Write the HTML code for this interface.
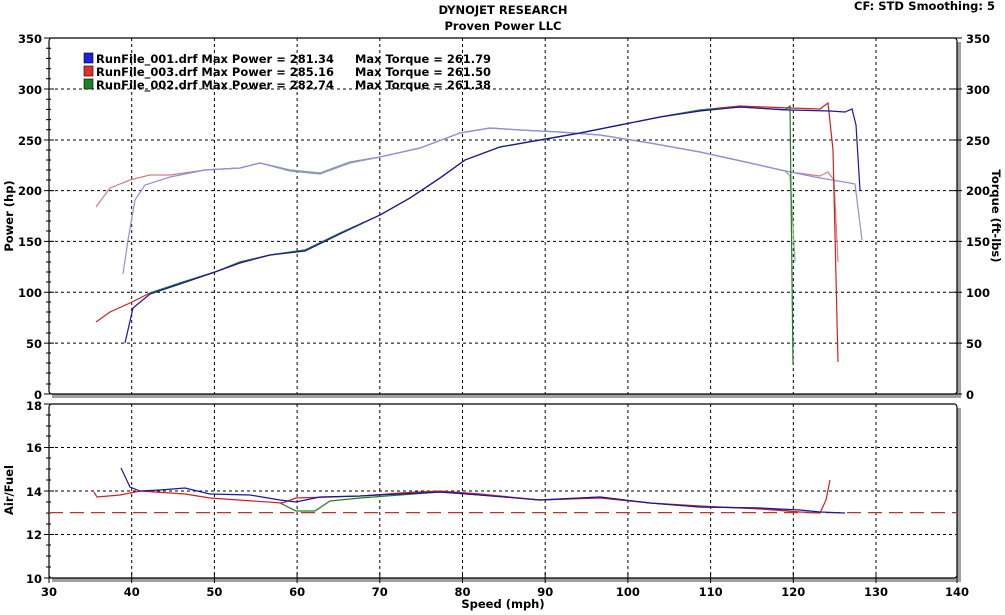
<!DOCTYPE html>
<html><head><style>
body{margin:0;background:#fff;width:1005px;height:611px;overflow:hidden;font-family:"DejaVu Sans",Verdana,sans-serif;}
svg text{font-family:"DejaVu Sans",Verdana,sans-serif;font-weight:bold;font-size:11.5px;fill:#000;}
</style></head><body>
<svg width="1005" height="611" xmlns="http://www.w3.org/2000/svg">
<text x="503" y="14" text-anchor="middle" font-size="10.5">DYNOJET RESEARCH</text>
<text x="503" y="30" text-anchor="middle" font-size="10.5">Proven Power LLC</text>
<text x="854" y="10" font-size="10.5">CF: STD</text>
<text x="995" y="10" text-anchor="end" font-size="10.5">Smoothing: 5</text>
<!-- shadows -->
<rect x="52" y="394" width="908" height="4" fill="#a0a0a0"/>
<rect x="957" y="42" width="4" height="356" fill="#a0a0a0"/>
<rect x="52" y="578" width="908" height="4" fill="#a0a0a0"/>
<rect x="957" y="408" width="4" height="174" fill="#a0a0a0"/>
<rect x="49" y="38" width="908" height="356" fill="#fff" stroke="#000" stroke-width="1.2" rx="3"/>
<rect x="49" y="404" width="908" height="174" fill="#fff" stroke="#000" stroke-width="1.2" rx="3"/>
<g stroke="#000" stroke-width="1" stroke-dasharray="3,3" fill="none">
<path d="M131.7 38V394M214.4 38V394M297.1 38V394M379.8 38V394M462.5 38V394M545.2 38V394M627.9 38V394M710.6 38V394M793.3 38V394M876 38V394"/>
<path d="M49 89H957M49 140H957M49 190.6H957M49 241.4H957M49 292.3H957M49 343.1H957"/>
<path d="M131.7 404V578M214.4 404V578M297.1 404V578M379.8 404V578M462.5 404V578M545.2 404V578M627.9 404V578M710.6 404V578M793.3 404V578M876 404V578"/>
<path d="M49 447.5H957M49 491H957M49 534.5H957"/>
</g>
<!-- ticks -->
<g stroke="#000" stroke-width="1">
<path d="M44 38H54M44 89H54M44 140H54M44 190.6H54M44 241.4H54M44 292.3H54M44 343.1H54M44 394H54"/>
<path d="M46 48.2H51M46 58.4H51M46 68.6H51M46 78.8H51M46 99.2H51M46 109.4H51M46 119.6H51M46 129.8H51M46 150H51M46 160H51M46 170H51M46 180H51M46 201H51M46 211H51M46 221H51M46 231H51M46 252H51M46 262H51M46 272H51M46 282H51M46 302H51M46 312H51M46 322H51M46 333H51M46 353H51M46 363H51M46 373H51M46 384H51"/>
<path d="M952 38H962M952 89H962M952 140H962M952 190.6H962M952 241.4H962M952 292.3H962M952 343.1H962M952 394H962"/>
<path d="M44 404H54M44 447.5H54M44 491H54M44 534.5H54M44 578H54M46 415H51M46 426H51M46 436H51M46 458H51M46 469H51M46 480H51M46 502H51M46 513H51M46 524H51M46 545H51M46 556H51M46 567H51"/>
<path d="M49 573V583M131.7 573V583M214.4 573V583M297.1 573V583M379.8 573V583M462.5 573V583M545.2 573V583M627.9 573V583M710.6 573V583M793.3 573V583M876 573V583M957 573V583"/>
</g>
<g text-anchor="end">
<text x="42" y="43">350</text><text x="42" y="94">300</text><text x="42" y="145">250</text><text x="42" y="195">200</text><text x="42" y="246">150</text><text x="42" y="297">100</text><text x="42" y="348">50</text><text x="42" y="399">0</text>
<text x="42" y="410">18</text><text x="42" y="452">16</text><text x="42" y="496">14</text><text x="42" y="539">12</text><text x="42" y="583">10</text>
</g>
<g>
<text x="966" y="43">350</text><text x="966" y="94">300</text><text x="966" y="145">250</text><text x="966" y="195">200</text><text x="966" y="246">150</text><text x="966" y="297">100</text><text x="966" y="348">50</text><text x="966" y="399">0</text>
</g>
<g text-anchor="middle">
<text x="49" y="596">30</text><text x="131.7" y="596">40</text><text x="214.4" y="596">50</text><text x="297.1" y="596">60</text><text x="379.8" y="596">70</text><text x="462.5" y="596">80</text><text x="545.2" y="596">90</text><text x="627.9" y="596">100</text><text x="710.6" y="596">110</text><text x="793.3" y="596">120</text><text x="876" y="596">130</text><text x="957" y="596">140</text>
<text x="503" y="608">Speed (mph)</text>
</g>
<text transform="translate(13,216) rotate(-90)" text-anchor="middle">Power (hp)</text>
<text transform="translate(992,216) rotate(90)" text-anchor="middle">Torque (ft-lbs)</text>
<text transform="translate(13,490) rotate(-90)" text-anchor="middle">Air/Fuel</text>
<!-- legend -->
<rect x="84" y="53" width="9" height="10" fill="#2020e0" stroke="#000" stroke-width="0.6"/>
<rect x="84" y="66" width="9" height="10" fill="#e03030" stroke="#000" stroke-width="0.6"/>
<rect x="84" y="79" width="9" height="10" fill="#208020" stroke="#000" stroke-width="0.6"/>
<text x="96" y="63" textLength="238" lengthAdjust="spacingAndGlyphs">RunFile_001.drf Max Power = 281.34</text>
<text x="96" y="76" textLength="238" lengthAdjust="spacingAndGlyphs">RunFile_003.drf Max Power = 285.16</text>
<text x="96" y="89" textLength="238" lengthAdjust="spacingAndGlyphs">RunFile_002.drf Max Power = 282.74</text>
<text x="355" y="63" textLength="136" lengthAdjust="spacingAndGlyphs">Max Torque = 261.79</text>
<text x="355" y="76" textLength="136" lengthAdjust="spacingAndGlyphs">Max Torque = 261.50</text>
<text x="355" y="89" textLength="136" lengthAdjust="spacingAndGlyphs">Max Torque = 261.38</text>
<!-- torque curves -->
<g fill="none" stroke-width="1.2">
<path stroke="#d08080" d="M96 207L110 188L130 180L150 175L170 175L205 170L240 168L260 163L290 170L320 173L350 162L380 157L420 148L460 133L490 128L520 130L560 132L600 135L650 143L700 152L750 163L790 172L820 176L828 172L834 180L838 262"/>
<path stroke="#80b080" d="M205 170L240 168L260 163L290 170L320 173L350 162L380 157L420 148L460 133L490 128L520 130L560 132L600 135L650 143L700 152L750 163L785 171L790 176L795 262"/>
<path stroke="#9090e0" d="M123 274L128 240L135 200L145 185L170 177L205 170L240 168L260 163L290 171L320 174L350 163L380 157L420 148L460 133L490 128L520 130L560 132L600 135L650 143L700 152L750 163L790 172L820 178L850 183L855 184L862 240"/>
</g>
<!-- power curves -->
<g fill="none" stroke-width="1.2">
<path stroke="#d02020" d="M96 322L110 312L130 303L150 293L180 283L215 272L240 262L270 255L305 250L340 233L380 215L410 198L440 178L465 160L500 147L540 140L580 133L620 125L660 117L700 110L740 106L790 108L820 109L828 103L833 150L838 362"/>
<path stroke="#208020" d="M150 293L180 283L215 272L240 262L270 255L305 250L340 233L380 215L410 198L440 178L465 160L500 147L540 140L580 133L620 125L660 117L700 110L740 107L785 110L790 106L793 365"/>
<path stroke="#1818a0" d="M125 343L133 308L150 294L180 284L215 272L240 263L270 255L305 251L340 234L380 215L410 198L440 178L465 160L500 147L540 140L580 133L620 125L660 117L700 111L740 107L790 110L830 111L845 112L852 109L856 125L860 190"/>
</g>
<!-- AFR -->
<path d="M49 512.6H957" stroke="#c03030" stroke-width="1.2" stroke-dasharray="14,7"/>
<g fill="none" stroke-width="1.2">
<path stroke="#208020" d="M280 503L296 511L315 511L330 501L360 498L400 495L440 492L480 495L540 500L600 497L650 503L700 507L760 508L790 511"/>
<path stroke="#d02020" d="M94 492L97 497L120 495L140 491L185 494L210 498L282 503L296 498L330 497L360 496L400 493L440 491L480 494L540 500L600 498L650 503L700 506L760 509L800 512L820 513L826 500L830 480"/>
<path stroke="#1818a0" d="M121 468L130 487L140 491L160 490L185 488L210 494L250 495L280 500L296 502L320 497L360 496L400 494L440 492L480 495L540 500L600 497L650 503L700 507L760 508L800 510L820 512L845 513"/>
</g>
</svg>
</body></html>
